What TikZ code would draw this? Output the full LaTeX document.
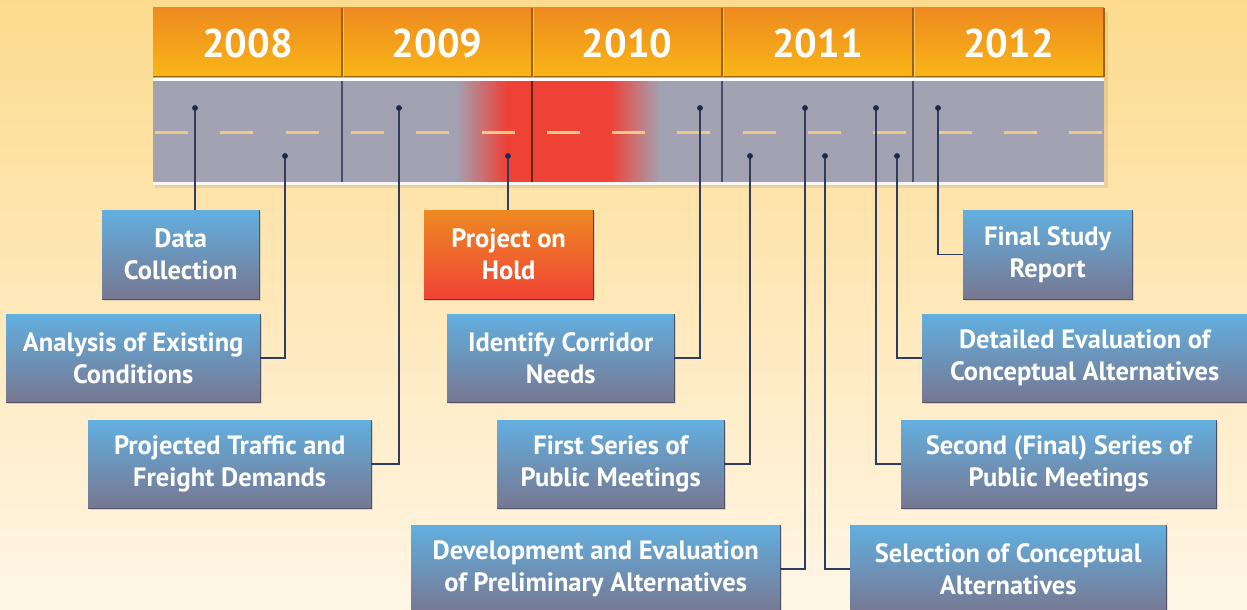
\documentclass[tikz,border=0pt]{standalone}
\usepackage{fontspec}
\setmainfont{PT Sans}
\usetikzlibrary{shadows}
\definecolor{bgtop}{HTML}{FDDB8E}
\definecolor{bgbot}{HTML}{FFF6E6}
\definecolor{hdrtop}{HTML}{EE8A1F}
\definecolor{hdrbot}{HTML}{F9B617}
\definecolor{hdredge}{HTML}{9A6410}
\definecolor{road}{HTML}{A3A2B2}
\definecolor{roaddiv}{HTML}{4A4D66}
\definecolor{dashc}{HTML}{EECA84}
\definecolor{holdred}{HTML}{EE4237}
\definecolor{dotc}{HTML}{1B2A4A}
\definecolor{linec}{HTML}{2E3D5E}
\definecolor{boxtop}{HTML}{62AFDF}
\definecolor{boxbot}{HTML}{777791}
\definecolor{boxedge}{HTML}{4F5168}
\definecolor{holdtop}{HTML}{EE8A22}
\definecolor{holdbot}{HTML}{EF4336}
\definecolor{holdedge}{HTML}{8A2A1A}
\begin{document}
\begin{tikzpicture}[x=1pt,y=-1pt,
  boxn/.style={top color=boxtop,bottom color=boxbot,text=white,
    font=\bfseries\fontsize{26.5}{32}\selectfont,align=center,inner sep=0pt,
    anchor=north west,drop shadow={shadow xshift=2pt,shadow yshift=-2pt,opacity=0.25}},
  holdn/.style={boxn,top color=holdtop,bottom color=holdbot},
  yr/.style={text=white,font=\bfseries\fontsize{40}{40}\selectfont,inner sep=0pt},
  conn/.style={draw=linec,line width=1.5pt},
  dotn/.style={circle,fill=dotc,inner sep=0pt,minimum size=5.5pt},
  cell/.style={top color=hdrtop,bottom color=hdrbot},
  dashline/.style={draw=dashc,line width=3pt},
  rdiv/.style={draw=roaddiv,line width=2pt},
  hdiv/.style={draw=hdredge,line width=1.5pt},
  edgeb/.style={draw=boxedge,line width=1.5pt},
  edgeh/.style={draw=holdedge,line width=1.5pt}]
\useasboundingbox (0,0) rectangle (1247,610);
% background
\fill[top color=bgtop,bottom color=bgbot] (0,0) rectangle (1247,610);
% road block shadow
\fill[black,opacity=0.08] (155,12) rectangle (1108,188);
% header cells
\fill[cell] (153,8) rectangle (342,77);
\fill[cell] (342,8) rectangle (532,77);
\fill[cell] (532,8) rectangle (722,77);
\fill[cell] (722,8) rectangle (913,77);
\fill[cell] (913,8) rectangle (1104,77);
\draw[hdiv] (153,76.5) -- (1104,76.5);
\draw[hdiv] (1104,8) -- (1104,77);
\foreach \xx in {342,532,722,913}{
  \draw[hdiv] (\xx,8) -- (\xx,77);
  \draw[white,opacity=0.35,line width=1pt] (\xx+1.5,8) -- (\xx+1.5,77);
}
\node[yr] (y2008) at (247.5,44) {2008};
\node[yr] (y2009) at (437,44) {2009};
\node[yr] (y2010) at (627,44) {2010};
\node[yr] (y2011) at (817.5,44) {2011};
\node[yr] (y2012) at (1008.5,44) {2012};
% road
\fill[white] (153,77.5) rectangle (1104,80.5);
\fill[road] (153,80.5) rectangle (1104,182);
\foreach \i in {0,...,50}{
  \pgfmathtruncatemacro{\p}{100-2*\i}
  \fill[road!\p!holdred] (456+\i,80.5) rectangle (457.2+\i,182);
}
\fill[holdred] (506.5,80.5) rectangle (611,182);
\foreach \i in {0,...,51}{
  \pgfmathtruncatemacro{\p}{min(100,2*\i)}
  \fill[road!\p!holdred] (610+\i,80.5) rectangle (611.2+\i,182);
}
\fill[white!90!road] (153,182) rectangle (1104,185);
\foreach \k in {0,...,14}{
  \draw[dashline] ({155+65.3*\k},132) -- ++(33,0);
}
\draw[rdiv] (342,80.5) -- (342,182);
\draw[draw=holdedge!80!black,line width=2pt] (532,80.5) -- (532,182);
\draw[rdiv] (722,80.5) -- (722,182);
\draw[rdiv] (913,80.5) -- (913,182);
% boxes
\node[boxn,minimum width=157,minimum height=89] (dc) at (102,210) {Data\\Collection};
\node[boxn,minimum width=254,minimum height=88] (aec) at (6,314) {Analysis of Existing\\Conditions};
\node[boxn,minimum width=283,minimum height=88] (ptf) at (88,420) {Projected Traffic and\\Freight Demands};
\node[holdn,minimum width=169,minimum height=89] (hold) at (424,210) {Project on\\Hold};
\node[boxn,minimum width=227,minimum height=88] (icn) at (447,314) {Identify Corridor\\Needs};
\node[boxn,minimum width=227,minimum height=88] (fsp) at (497,420) {First Series of\\Public Meetings};
\node[boxn,minimum width=369,minimum height=88] (dev) at (411,525) {Development and Evaluation\\of Preliminary Alternatives};
\node[boxn,minimum width=316,minimum height=88] (sel) at (850,525) {Selection of Conceptual\\Alternatives};
\node[boxn,minimum width=315,minimum height=88] (sec) at (901,420) {Second (Final) Series of\\Public Meetings};
\node[boxn,minimum width=330,minimum height=88] (det) at (922,314) {\hspace*{-5pt}Detailed Evaluation of\\\hspace*{-5pt}Conceptual Alternatives};
\node[boxn,minimum width=169,minimum height=89] (fsr) at (963,210) {Final Study\\Report};
\foreach \n in {dc,aec,ptf,icn,fsp,dev,sel,sec,det,fsr}{
  \draw[edgeb] (\n.south west) -- (\n.south east) -- (\n.north east);
}
\draw[edgeh] (hold.south west) -- (hold.south east) -- (hold.north east);
% dots
\node[dotn] (d1) at (195,108) {};
\node[dotn] (d2) at (285,156) {};
\node[dotn] (d3) at (399,108) {};
\node[dotn] (d4) at (508,156) {};
\node[dotn] (d5) at (700,108) {};
\node[dotn] (d6) at (750,156) {};
\node[dotn] (d7) at (805,108) {};
\node[dotn] (d8) at (825,156) {};
\node[dotn] (d9) at (876,108) {};
\node[dotn] (d10) at (897,156) {};
\node[dotn] (d11) at (938,108) {};
% connectors
\draw[conn] (d1.center) -- (d1.center |- dc.north);
\draw[conn] (d2.center) |- (aec.east);
\draw[conn] (d3.center) |- (ptf.east);
\draw[conn] (d4.center) -- (d4.center |- hold.north);
\draw[conn] (d5.center) |- (icn.east);
\draw[conn] (d6.center) |- (fsp.east);
\draw[conn] (d7.center) |- (dev.east);
\draw[conn] (d8.center) |- (sel.west);
\draw[conn] (d9.center) |- (sec.west);
\draw[conn] (d10.center) |- (det.west);
\draw[conn] (d11.center) |- (fsr.west);
\foreach \d in {d1,d2,d3,d4,d5,d6,d7,d8,d9,d10,d11}{
  \fill[dotc] (\d) circle (2.75pt);
}
\end{tikzpicture}
\end{document}
